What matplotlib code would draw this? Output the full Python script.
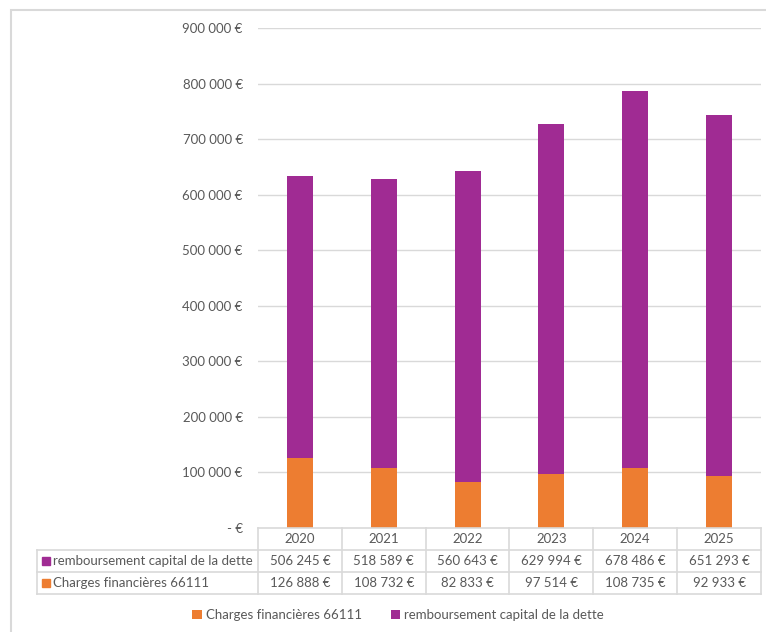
import matplotlib
matplotlib.use('Agg')
import matplotlib.pyplot as plt
from matplotlib.patches import Rectangle
from matplotlib.ticker import FuncFormatter

plt.rcParams['font.family'] = ['Lato', 'DejaVu Sans']

years = ['2020', '2021', '2022', '2023', '2024', '2025']
charges = [126888, 108732, 82833, 97514, 108735, 92933]
rembours = [506245, 518589, 560643, 629994, 678486, 651293]
lab_charges = 'Charges financières 66111'
lab_remb = 'remboursement capital de la dette'

orange = '#ED7D31'
purple = '#A02B93'
txt = '#595959'
grid = '#D9D9D9'
fs = 9.5

W, H = 766, 632
fig = plt.figure(figsize=(W / 100, H / 100), dpi=100)

def px(x0, y0, x1, y1):
    # pixel box (top-left origin) -> figure fraction
    return [x0 / W, 1 - y1 / H, (x1 - x0) / W, (y1 - y0) / H]

# chart border
fig.patches.append(Rectangle((11 / W, -0.1), 1.2, 1 - 10 / H + 0.1, transform=fig.transFigure,
                             fill=False, edgecolor=grid, linewidth=1.5))

def euro(v, pos=None):
    if v == 0:
        return '- €'
    return f'{int(v):,} €'.replace(',', ' ')

ax = fig.add_axes(px(258, 28, 761, 528))
x = list(range(len(years)))
ax.bar(x, charges, width=0.31, color=orange, label=lab_charges, zorder=3)
ax.bar(x, rembours, width=0.31, bottom=charges, color=purple, label=lab_remb, zorder=3)
ax.set_xlim(-0.5, len(years) - 0.5)
ax.set_ylim(0, 900000)
ax.set_yticks(range(0, 900001, 100000))
ax.yaxis.set_major_formatter(FuncFormatter(euro))
ax.tick_params(axis='y', length=0, pad=11, labelsize=fs, labelcolor=txt)
ax.set_xticks([])
for s in ax.spines.values():
    s.set_visible(False)
for v in range(100000, 900001, 100000):
    ax.axhline(v, color=grid, linewidth=1, zorder=1)

# data table
tab = fig.add_axes(px(37, 528, 761, 594))
unit = 503 / len(years)
left = -0.5 - 221 / unit
tab.set_xlim(left, len(years) - 0.5)
tab.set_ylim(3, 0)
tab.axis('off')
lw = dict(color=grid, linewidth=1.2, clip_on=False)
tab.plot([-0.5, len(years) - 0.5], [0, 0], **lw)
for r in (1, 2, 3):
    tab.plot([left, len(years) - 0.5], [r, r], **lw)
tab.plot([left, left], [1, 3], **lw)
for b in range(len(years) + 1):
    tab.plot([b - 0.5, b - 0.5], [0, 3], **lw)
for i, yr in enumerate(years):
    tab.text(i, 0.5, yr, ha='center', va='center', fontsize=fs, color=txt)
    tab.text(i, 1.5, euro(rembours[i]), ha='center', va='center', fontsize=fs, color=txt)
    tab.text(i, 2.5, euro(charges[i]), ha='center', va='center', fontsize=fs, color=txt)
mk = left + 9 / unit
tab.plot([mk], [1.5], marker='s', markersize=5.5, color=purple, clip_on=False)
tab.plot([mk], [2.5], marker='s', markersize=5.5, color=orange, clip_on=False)
tab.text(left + 16 / unit, 1.5, lab_remb, ha='left', va='center', fontsize=fs, color=txt)
tab.text(left + 16 / unit, 2.5, lab_charges, ha='left', va='center', fontsize=fs, color=txt)

handles, labels = ax.get_legend_handles_labels()
fig.legend(handles, labels, loc='center', bbox_to_anchor=(398 / W, 1 - 615 / H), ncol=2,
           frameon=False, fontsize=fs, labelcolor=txt, handlelength=0.7, handleheight=0.7,
           handletextpad=0.3, columnspacing=2.2)

fig.savefig('out.png', dpi=100)
